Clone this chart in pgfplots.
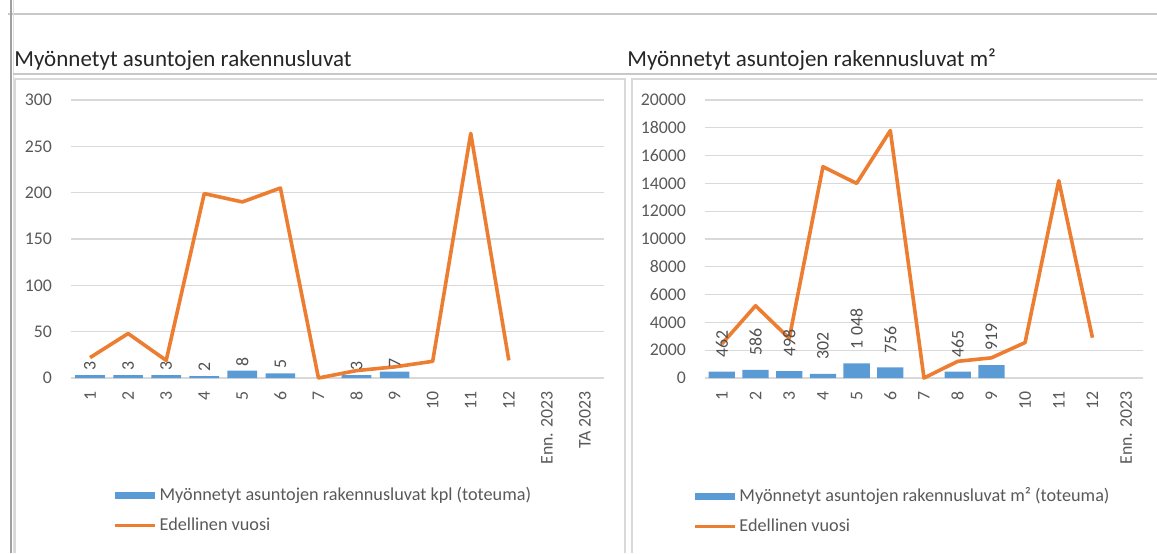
\documentclass[border=0pt]{standalone}
\usepackage{pgfplots}
\pgfplotsset{compat=1.18}
\usepackage{fontspec}
\setmainfont{Carlito}
\definecolor{barblue}{HTML}{5B9BD5}
\definecolor{lineor}{HTML}{ED7D31}
\definecolor{txtgray}{HTML}{595959}
\definecolor{gridg}{HTML}{D9D9D9}
\definecolor{frameg}{HTML}{C8C8C8}
\pgfplotsset{
  excelstyle/.style={
    scale only axis,
    anchor=south west,
    ymin=0,
    axis line style={draw=none},
    axis x line*=bottom,
    x axis line style={draw=gridg, line width=0.6pt},
    tick style={draw=none},
    ymajorgrids, grid style={gridg, line width=0.6pt},
    /pgf/number format/assume math mode=true,
    /pgf/number format/1000 sep={},
    tick label style={font=\fontsize{8.9}{10}\selectfont, text=txtgray},
    yticklabel style={xshift=-6pt},
    xticklabel style={rotate=90, anchor=east, xshift=-3pt},
    legend cell align=left,
    legend style={draw=none, fill=none, font=\fontsize{9.1}{10}\selectfont, text=txtgray,
      anchor=north west, row sep=4.5pt, nodes={inner sep=1.2pt}},
    clip=false,
  }
}
\begin{document}
\begin{tikzpicture}[x=0.5pt,y=0.5pt]
\useasboundingbox (0,0) rectangle (1157,553);
% frame lines
\draw[frameg, line width=1pt] (8,539) -- (1157,539);
\draw[frameg!80!black, line width=1pt] (10.5,0) -- (10.5,553);
\draw[frameg!60, line width=0.8pt] (13.5,0) -- (13.5,553);
\draw[frameg, line width=1pt] (13,479) -- (1157,479);
\draw[gridg, line width=0.8pt] (15,0) -- (15,474) -- (625,474) -- (625,0);
\draw[gridg, line width=0.8pt] (632,0) -- (632,474) -- (1157,474);
% titles
\node[anchor=base west, inner sep=0pt, font=\fontsize{11.5}{13}\selectfont, text=black!85] at (14,487) {Myönnetyt asuntojen rakennusluvat};
\node[anchor=base west, inner sep=0pt, font=\fontsize{11.5}{13}\selectfont, text=black!85] at (627,487) {Myönnetyt asuntojen rakennusluvat m²};

\begin{axis}[excelstyle,
  at={(35.5pt,87.5pt)}, width=266.5pt, height=139pt,
  xmin=0.5, xmax=14.5, ymax=300, ytick={0,50,...,300},
  xtick={1,...,14},
  xticklabels={1,2,3,4,5,6,7,8,9,10,11,12,Enn. 2023,TA 2023},
  legend style={at={(0.068,-0.37)}},
]
\addplot[ybar, bar width=0.78, fill=barblue, draw=none,
  nodes near coords,
  every node near coord/.append style={rotate=90, anchor=west, font=\fontsize{8.9}{10}\selectfont, text=txtgray!90!black, inner sep=2pt},
  legend image code/.code={\fill[barblue] (0pt,-1.8pt) rectangle (20pt,1.8pt);}]
  coordinates {(1,3) (2,3) (3,3) (4,2) (5,8) (6,5) (8,3) (9,7)};
\addlegendentry{Myönnetyt asuntojen rakennusluvat kpl (toteuma)}
\addplot[lineor, line width=1.8pt, line join=round, mark=none,
  legend image code/.code={\draw[lineor, line width=1.8pt] (0pt,0pt) -- (20pt,0pt);}]
  coordinates {(1,22) (2,48) (3,19) (4,199) (5,190) (6,205) (7,0) (8,8) (9,12) (10,18) (11,264) (12,19)};
\addlegendentry{Edellinen vuosi}
\end{axis}

\begin{axis}[excelstyle,
  at={(352.5pt,87.5pt)}, width=219pt, height=139pt,
  xmin=0.5, xmax=13.5, ymax=20000, ytick={0,2000,...,20000},
  xtick={1,...,13},
  xticklabels={1,2,3,4,5,6,7,8,9,10,11,12,Enn. 2023},
  scaled y ticks=false,
  legend style={at={(-0.041,-0.37)}},
]
\addplot[ybar, bar width=0.78, fill=barblue, draw=none,
  point meta=explicit symbolic,
  nodes near coords,
  every node near coord/.append style={rotate=90, anchor=west, font=\fontsize{8.9}{10}\selectfont, text=txtgray!90!black, inner sep=2pt, xshift=5pt},
  legend image code/.code={\fill[barblue] (0pt,-1.8pt) rectangle (20pt,1.8pt);}]
  coordinates {(1,462) [462] (2,586) [586] (3,498) [498] (4,302) [302] (5,1048) [1 048] (6,756) [756] (8,465) [465] (9,919) [919]};
\addlegendentry{Myönnetyt asuntojen rakennusluvat m² (toteuma)}
\addplot[lineor, line width=1.8pt, line join=round, mark=none,
  legend image code/.code={\draw[lineor, line width=1.8pt] (0pt,0pt) -- (20pt,0pt);}]
  coordinates {(1,2450) (2,5200) (3,2850) (4,15200) (5,14000) (6,17800) (7,0) (8,1200) (9,1450) (10,2550) (11,14200) (12,2900)};
\addlegendentry{Edellinen vuosi}
\end{axis}
\end{tikzpicture}
\end{document}
